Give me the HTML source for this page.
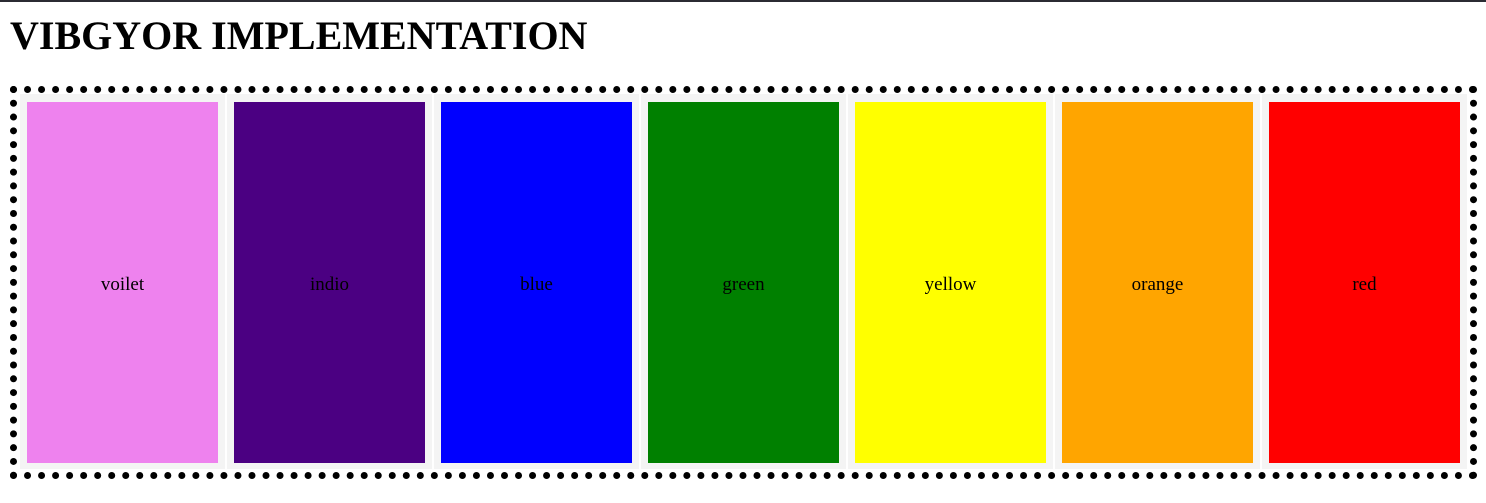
<!DOCTYPE html>
<html><head><meta charset="utf-8"><style>
body{margin:0;width:1486px;height:503px;background:#fff;position:relative;overflow:hidden;font-family:"Liberation Serif",serif}
#bar{position:absolute;left:0;top:0;width:1486px;height:2px;background:#2b2b33}
h1{position:absolute;left:10px;top:13px;margin:0;font-size:40px;font-weight:bold;line-height:46px}
#wrap{position:absolute;left:10px;top:86px;width:1453px;height:379px;border:7px dotted #000}
.cell{position:absolute;top:1px;width:205px;height:375px;background:#f4f4f4}
.box{position:absolute;left:7px;top:8px;width:191px;height:361px;display:flex;align-items:center;justify-content:center;font-size:19px;color:#000;padding-top:4px;box-sizing:border-box}
</style></head><body>
<div id="bar"></div>
<h1>VIBGYOR IMPLEMENTATION</h1>
<div id="wrap">
<div class="cell" style="left:3px"><div class="box" style="background:violet">voilet</div></div>
<div class="cell" style="left:210px"><div class="box" style="background:indigo">indio</div></div>
<div class="cell" style="left:417px"><div class="box" style="background:blue">blue</div></div>
<div class="cell" style="left:624px"><div class="box" style="background:green">green</div></div>
<div class="cell" style="left:831px"><div class="box" style="background:yellow">yellow</div></div>
<div class="cell" style="left:1038px"><div class="box" style="background:orange">orange</div></div>
<div class="cell" style="left:1245px"><div class="box" style="background:red">red</div></div>
</div>
</body></html>
